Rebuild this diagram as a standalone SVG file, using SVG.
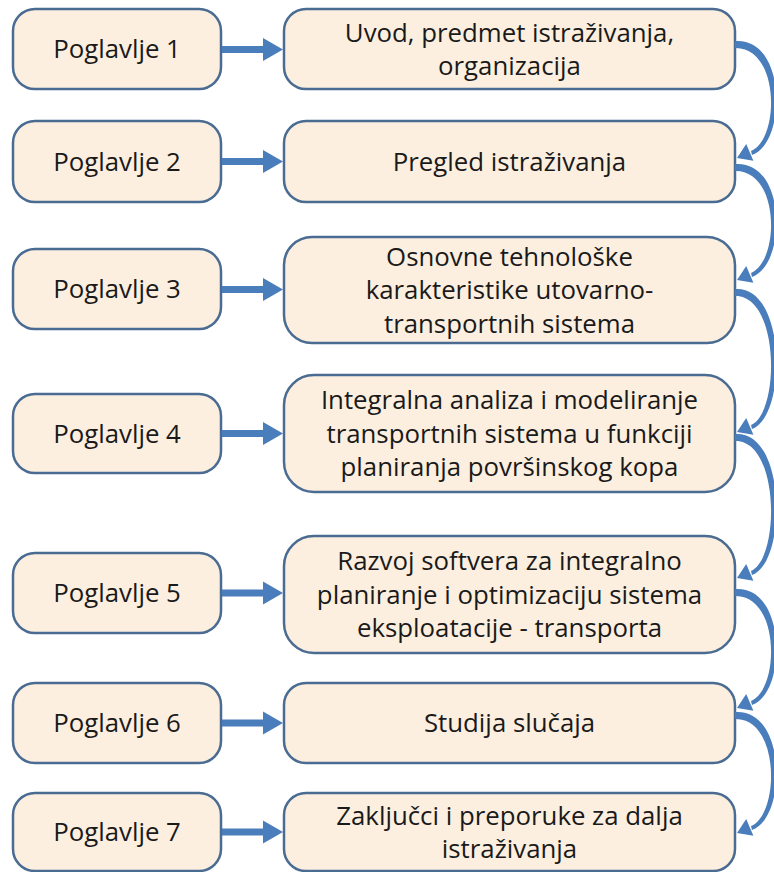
<svg xmlns="http://www.w3.org/2000/svg" xmlns:xlink="http://www.w3.org/1999/xlink" width="774" height="872" viewBox="0 0 774 872">
<style>
.box{fill:#fcefe0;stroke:#4a6b92;stroke-width:2.5}
.t{font-family:"Open Sans","Liberation Sans",sans-serif;font-size:25.8px;fill:#1a1a1a;text-anchor:middle}
.arr{fill:#4a7dbb}
</style>
<defs>
<path id="harrow" d="M222,-3.5 L263,-3.5 L263,-11.5 L283,0 L263,11.5 L263,3.5 L222,3.5 Z"/>
</defs>
<rect width="774" height="872" fill="#ffffff"/>
<g id="p1"><rect class="box" x="13" y="9" width="208" height="80" rx="22"/><text class="t" x="117" y="58">Poglavlje 1</text></g>
<g id="p2"><rect class="box" x="13" y="121" width="208" height="81" rx="22"/><text class="t" x="117" y="170.5">Poglavlje 2</text></g>
<g id="p3"><rect class="box" x="13" y="249" width="208" height="80" rx="22"/><text class="t" x="117" y="298">Poglavlje 3</text></g>
<g id="p4"><rect class="box" x="13" y="394" width="208" height="79" rx="22"/><text class="t" x="117" y="442.5">Poglavlje 4</text></g>
<g id="p5"><rect class="box" x="13" y="553" width="208" height="80" rx="22"/><text class="t" x="117" y="602">Poglavlje 5</text></g>
<g id="p6"><rect class="box" x="13" y="683" width="208" height="80" rx="22"/><text class="t" x="117" y="732">Poglavlje 6</text></g>
<g id="p7"><rect class="box" x="13" y="793" width="208" height="78" rx="22"/><text class="t" x="117" y="841">Poglavlje 7</text></g>

<g id="c1"><rect class="box" x="284" y="9" width="451" height="80" rx="22"/><text class="t" x="509.5" y="41.5">Uvod, predmet istraživanja,</text><text class="t" x="509.5" y="75">organizacija</text></g>
<g id="c2"><rect class="box" x="284" y="121" width="451" height="81" rx="22"/><text class="t" x="509.5" y="170.5">Pregled istraživanja</text></g>
<g id="c3"><rect class="box" x="284" y="237" width="451" height="106" rx="28"/><text class="t" x="509.5" y="265.5">Osnovne tehnološke</text><text class="t" x="509.5" y="299">karakteristike utovarno-</text><text class="t" x="509.5" y="332.5">transportnih sistema</text></g>
<g id="c4"><rect class="box" x="284" y="375" width="451" height="117" rx="30"/><text class="t" x="509.5" y="409">Integralna analiza i modeliranje</text><text class="t" x="509.5" y="442.5">transportnih sistema u funkciji</text><text class="t" x="509.5" y="476">planiranja površinskog kopa</text></g>
<g id="c5"><rect class="box" x="284" y="536" width="451" height="117" rx="30"/><text class="t" x="509.5" y="570">Razvoj softvera za integralno</text><text class="t" x="509.5" y="603.5">planiranje i optimizaciju sistema</text><text class="t" x="509.5" y="637">eksploatacije - transporta</text></g>
<g id="c6"><rect class="box" x="284" y="683" width="451" height="80" rx="22"/><text class="t" x="509.5" y="732">Studija slučaja</text></g>
<g id="c7"><rect class="box" x="284" y="793" width="451" height="78" rx="22"/><text class="t" x="509.5" y="824.5">Zaključci i preporuke za dalja</text><text class="t" x="509.5" y="858">istraživanja</text></g>

<g id="connectors" class="arr">
<use xlink:href="#harrow" y="49.5"/>
<use xlink:href="#harrow" y="161.5"/>
<use xlink:href="#harrow" y="289.5"/>
<use xlink:href="#harrow" y="433.5"/>
<use xlink:href="#harrow" y="593"/>
<use xlink:href="#harrow" y="723"/>
<use xlink:href="#harrow" y="832"/>
<path d="M735 41 C787 37,787 143,752 155 L751 151 C780 139,780 47,735 48Z"/><polygon points="737,158 753.4,160.7 746.2,144.1"/>
<path d="M735 164 C787 160,787 265,752 277 L751 273 C780 261,780 170,735 171Z"/><polygon points="737,280 753.4,282.7 746.2,266.1"/>
<path d="M735 289 C787 285,787 417,752 429 L751 425 C780 413,780 295,735 296Z"/><polygon points="737,432 753.4,434.7 746.2,418.1"/>
<path d="M735 434 C787 430,787 563,752 575 L751 571 C780 559,780 440,735 441Z"/><polygon points="737,578 753.4,580.7 746.2,564.1"/>
<path d="M735 589 C787 585,787 693,752 705 L751 701 C780 689,780 595,735 596Z"/><polygon points="737,708 753.4,710.7 746.2,694.1"/>
<path d="M735 712 C787 708,787 818,752 830 L751 826 C780 814,780 718,735 719Z"/><polygon points="737,833 753.4,835.7 746.2,819.1"/>
</g>
</svg>
